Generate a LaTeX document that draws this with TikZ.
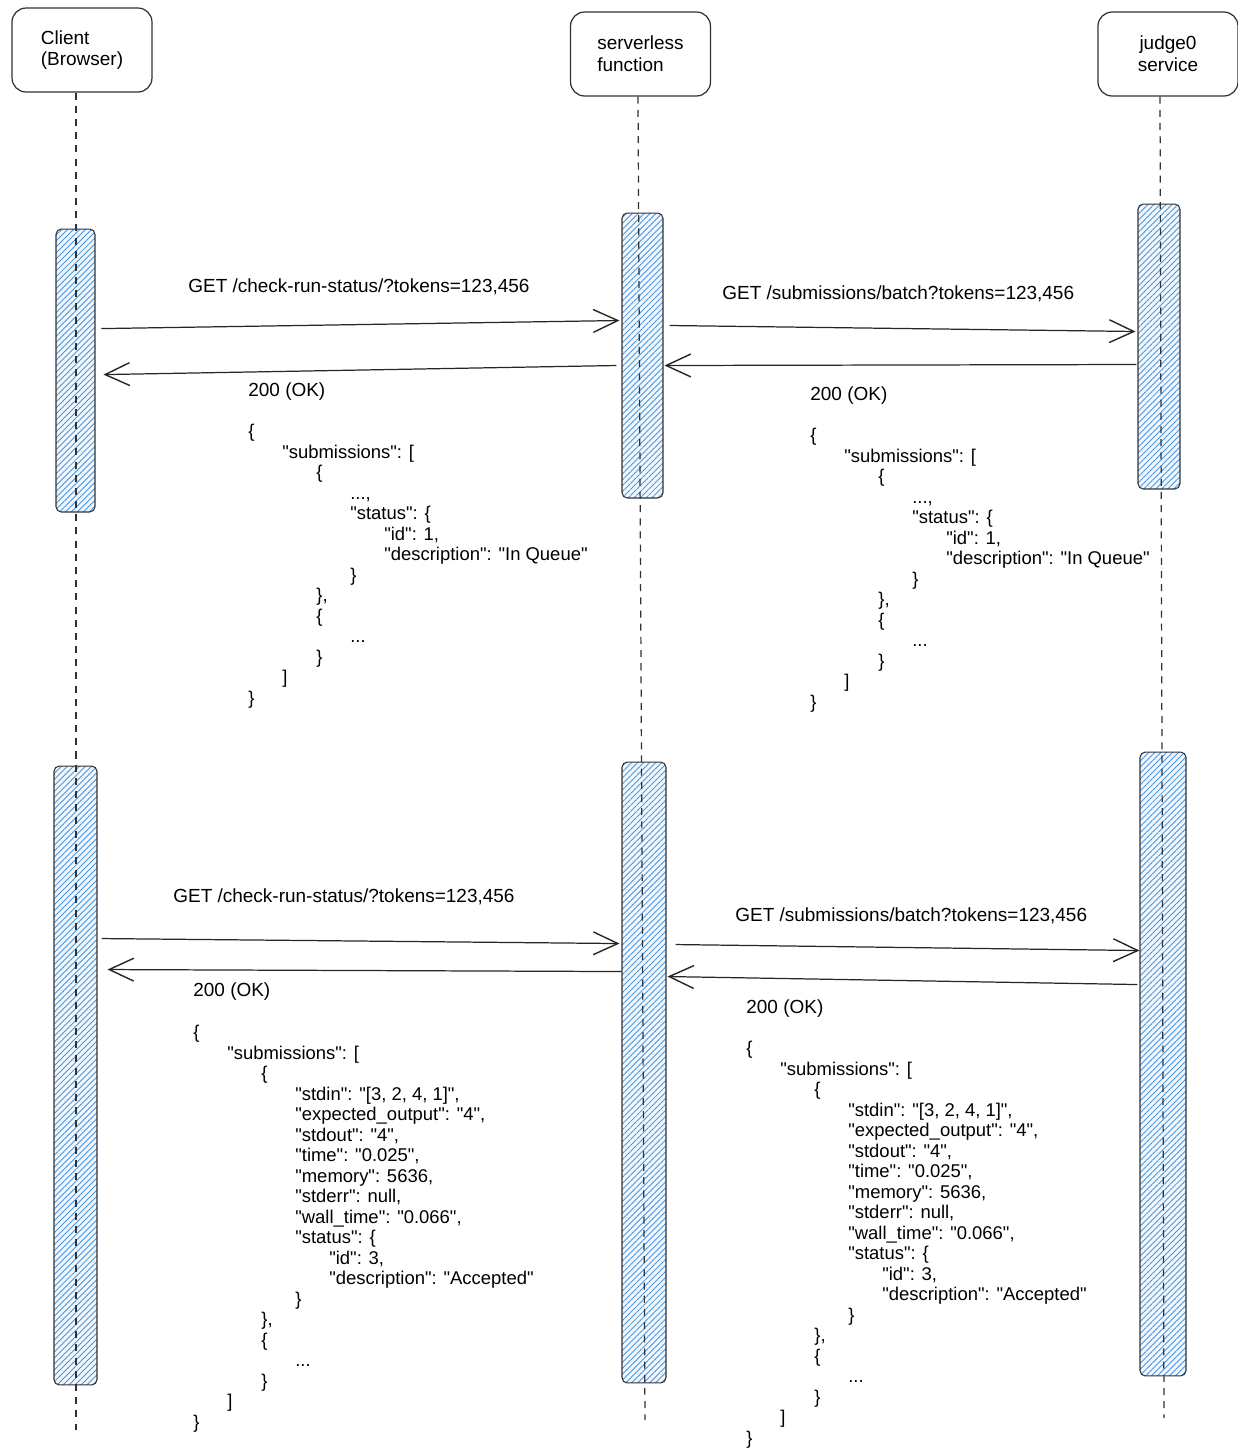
\documentclass[tikz,border=0pt]{standalone}
\usepackage{fontspec}
\setmainfont[Ligatures=TeXOff]{Liberation Sans}
\usetikzlibrary{arrows.meta, patterns.meta}

\definecolor{HatchBlue}{RGB}{74, 150, 222}
\definecolor{LineGray}{RGB}{50, 50, 50}

\newlength\jstep
\setlength\jstep{0.68cm}
\newcommand\jt[1]{\hspace*{#1\jstep}}

\newcommand\queuejson{\{\\
\jt1"submissions": [\\
\jt2\{\\
\jt3...,\\
\jt3"status": \{\\
\jt4"id": 1,\\
\jt4"description": "In Queue"\\
\jt3\}\\
\jt2\},\\
\jt2\{\\
\jt3...\\
\jt2\}\\
\jt1]\\
\}}

\newcommand\acceptjson{\{\\
\jt1"submissions": [\\
\jt2\{\\
\jt3"stdin": "[3, 2, 4, 1]",\\
\jt3"expected\_output": "4",\\
\jt3"stdout": "4",\\
\jt3"time": "0.025",\\
\jt3"memory": 5636,\\
\jt3"stderr": null,\\
\jt3"wall\_time": "0.066",\\
\jt3"status": \{\\
\jt4"id": 3,\\
\jt4"description": "Accepted"\\
\jt3\}\\
\jt2\},\\
\jt2\{\\
\jt3...\\
\jt2\}\\
\jt1]\\
\}}

\tikzset{
	actor/.style={draw=LineGray, line width=0.7pt, rounded corners=8pt, minimum width=2.8cm, minimum height=1.68cm},
	lifeline/.style={draw=LineGray, line width=0.7pt, dash pattern=on 4pt off 3.5pt},
	actbar/.style={draw=LineGray, line width=0.6pt, rounded corners=3pt, inner sep=0pt,
		preaction={fill=HatchBlue!8},
		pattern={Lines[angle=45, distance=2.4pt, line width=0.5pt]}, pattern color=HatchBlue},
	msg/.style={draw=black!85, line width=0.7pt, -{Straight Barb[length=14pt, width=13pt, line width=0.8pt]}},
	lbl/.style={anchor=west, inner sep=0pt},
	json/.style={anchor=north west, inner sep=0pt, align=left, font=\fontsize{10.5}{11.67}\selectfont},
}

\begin{document}
\begin{tikzpicture}[x=0.02cm, y=-0.02cm, font=\fontsize{10.8}{12.4}\selectfont]
	\useasboundingbox (0,0) rectangle (1238,1448);

	\node[actor, align=left] (client) at (82,50) {Client\\(Browser)};
	\node[actor, align=left] (fn) at (640.5,54) {serverless\\function};
	\node[actor, align=center] (judge) at (1168,54) {judge0\\service};

	\node[actbar, minimum width=0.78cm, minimum height=5.66cm] (cTop) at (75.5,370.5) {};
	\node[actbar, minimum width=0.82cm, minimum height=5.7cm] (fTop) at (642.5,355.5) {};
	\node[actbar, minimum width=0.84cm, minimum height=5.7cm] (jTop) at (1159,346.5) {};
	\node[actbar, minimum width=0.86cm, minimum height=12.38cm] (cBot) at (75.5,1075.5) {};
	\node[actbar, minimum width=0.88cm, minimum height=12.42cm] (fBot) at (644,1072.5) {};
	\node[actbar, minimum width=0.92cm, minimum height=12.48cm] (jBot) at (1163,1064) {};

	\coordinate (clientEnd) at (76,1430);
	\coordinate (fnEnd) at (645,1420);
	\coordinate (judgeEnd) at (1164,1418);
	\draw[lifeline] ([shift={(-6,0)}]client.south) -- (clientEnd);
	\draw[lifeline] ([shift={(-2.5,0)}]fn.south) -- (fnEnd);
	\draw[lifeline] ([shift={(-8,0)}]judge.south) -- (judgeEnd);

	\draw[msg] ([shift={(6,100)}]cTop.north east) -- ([shift={(-2,108)}]fTop.north west);
	\draw[msg] ([shift={(-5,153)}]fTop.north west) -- ([shift={(8,146)}]cTop.north east);
	\draw[msg] ([shift={(6,113)}]fTop.north east) -- ([shift={(-2,128)}]jTop.north west);
	\draw[msg] ([shift={(-1,161)}]jTop.north west) -- ([shift={(1,153)}]fTop.north east);

	\draw[msg] ([shift={(4,173)}]cBot.north east) -- ([shift={(-2,182)}]fBot.north west);
	\draw[msg] ([shift={(0,210)}]fBot.north west) -- ([shift={(10,204)}]cBot.north east);
	\draw[msg] ([shift={(9,183)}]fBot.north east) -- ([shift={(0,199)}]jBot.north west);
	\draw[msg] ([shift={(-2,233)}]jBot.north west) -- ([shift={(1,215)}]fBot.north east);

	\node[lbl] (getA) at (188,287) {GET /check-run-status/?tokens=123,456};
	\node[lbl] (okA) at (248,392) {200 (OK)};
	\node[lbl] (getB) at (722,294) {GET /submissions/batch?tokens=123,456};
	\node[lbl] (okB) at (810,396) {200 (OK)};
	\node[lbl] (getC) at (173,897) {GET /check-run-status/?tokens=123,456};
	\node[lbl] (okC) at (193,992) {200 (OK)};
	\node[lbl] (getD) at (735,916) {GET /submissions/batch?tokens=123,456};
	\node[lbl] (okD) at (746,1009) {200 (OK)};

	\node[json] (bodyA) at (248,424) {\queuejson};
	\node[json] (bodyB) at (810,428) {\queuejson};
	\node[json] (bodyC) at (193,1025) {\acceptjson};
	\node[json] (bodyD) at (746,1041) {\acceptjson};
\end{tikzpicture}
\end{document}
